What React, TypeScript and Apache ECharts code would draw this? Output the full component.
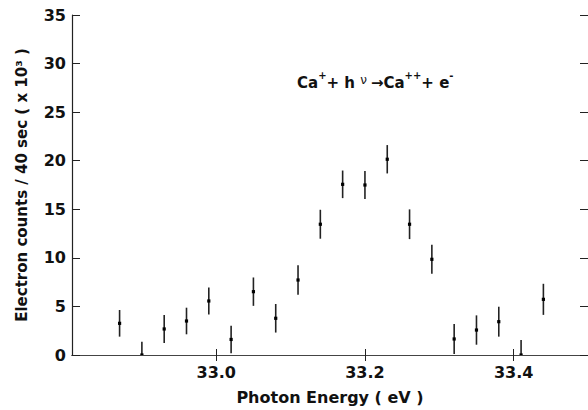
import React, { useEffect, useRef } from "react";
import * as echarts from "echarts";

const energies = [32.87, 32.90, 32.93, 32.96, 32.99, 33.02, 33.05, 33.08, 33.11, 33.14, 33.17, 33.20, 33.23, 33.26, 33.29, 33.32, 33.35, 33.38, 33.41, 33.44];
const counts = [3.26, 0, 2.68, 3.5, 5.56, 1.6, 6.52, 3.78, 7.72, 13.46, 17.57, 17.5, 20.15, 13.46, 9.85, 1.65, 2.57, 3.43, 0, 5.73];
const errors = [1.37, 1.37, 1.45, 1.37, 1.4, 1.41, 1.46, 1.47, 1.51, 1.49, 1.42, 1.45, 1.46, 1.53, 1.49, 1.54, 1.51, 1.54, 1.55, 1.6];
const xTicks = [33.0, 33.2, 33.4];
const xMin = 32.806;
const xMax = 33.5;

const FONT = "DejaVu Sans";

export default function App() {
  const ref = useRef<HTMLDivElement>(null);
  useEffect(() => {
    const chart = echarts.init(ref.current!, undefined, { renderer: "svg" });
    const pts = energies.map((e, i) => [e, counts[i], errors[i]]);
    const option: any = {
      animation: false,
      backgroundColor: "#ffffff",
      grid: { left: 72, right: 0, top: 15, bottom: 55, containLabel: false, outerBoundsMode: "none" },
      xAxis: [
        {
          type: "value",
          min: xMin,
          max: xMax,
          position: "bottom",
          axisLine: { show: true, lineStyle: { color: "#222", width: 1.2 } },
          axisTick: { show: true, inside: true, length: 6, customValues: xTicks, lineStyle: { color: "#222" } },
          axisLabel: {
            show: true,
            customValues: xTicks,
            formatter: (v: number) => v.toFixed(1),
            color: "#111",
            fontFamily: FONT,
            fontWeight: "bold",
            fontSize: 16,
            margin: 9,
          },
          splitLine: { show: false },
          name: "Photon Energy ( eV )",
          nameLocation: "middle",
          nameGap: 34,
          nameTextStyle: { color: "#111", fontFamily: FONT, fontWeight: "bold", fontSize: 16 },
        },
        {
          type: "value",
          min: xMin,
          max: xMax,
          position: "top",
          axisLine: { show: true, lineStyle: { color: "#444", width: 1.2 } },
          axisTick: { show: true, inside: true, length: 6, customValues: xTicks, lineStyle: { color: "#222" } },
          axisLabel: { show: false },
          splitLine: { show: false },
        },
      ],
      yAxis: [
        {
          type: "value",
          min: 0,
          max: 35,
          interval: 5,
          position: "left",
          axisLine: { show: true, lineStyle: { color: "#222", width: 1.2 } },
          axisTick: { show: true, inside: true, length: 8, lineStyle: { color: "#222" } },
          axisLabel: {
            color: "#111",
            fontFamily: FONT,
            fontWeight: "bold",
            fontSize: 16,
            margin: 6,
          },
          splitLine: { show: false },
          name: "Electron counts / 40 sec ( x 10³ )",
          nameLocation: "middle",
          nameGap: 43,
          nameTextStyle: { color: "#111", fontFamily: FONT, fontWeight: "bold", fontSize: 15 },
        },
        {
          type: "value",
          min: 0,
          max: 35,
          interval: 5,
          position: "right",
          axisLine: { show: false },
          axisTick: { show: true, inside: true, length: 8, lineStyle: { color: "#222" } },
          axisLabel: { show: false },
          splitLine: { show: false },
        },
      ],
      graphic: [
        {
          type: "text",
          left: 297,
          top: 70,
          style: {
            text: "{a|Ca}{s|+}{a|+ h }{n|ν}{a|→Ca}{s|++}{a|+ e}{s|-}",
            rich: {
              a: { fontFamily: FONT, fontWeight: "bold", fontSize: 15, fill: "#111", verticalAlign: "bottom", lineHeight: 20 },
              s: { fontFamily: FONT, fontWeight: "bold", fontSize: 10, fill: "#111", verticalAlign: "top", lineHeight: 20 },
              n: { fontFamily: FONT, fontSize: 12, fill: "#111", verticalAlign: "middle", lineHeight: 20, padding: [0, 4, 0, 0] },
            },
          },
        },
      ],
      series: [
        {
          type: "custom",
          xAxisIndex: 0,
          yAxisIndex: 0,
          clip: true,
          data: pts,
          renderItem: (params: any, api: any) => {
            const x = api.value(0);
            const y = api.value(1);
            const e = api.value(2);
            const p = api.coord([x, y]);
            const top = api.coord([x, y + e]);
            const bot = api.coord([x, Math.max(0, y - e)]);
            return {
              type: "group",
              children: [
                {
                  type: "line",
                  shape: { x1: top[0], y1: top[1], x2: bot[0], y2: bot[1] },
                  style: { stroke: "#222", lineWidth: 1.6 },
                },
                {
                  type: "rect",
                  shape: { x: p[0] - 1.6, y: p[1] - 1.6, width: 3.2, height: 3.2 },
                  style: { fill: "#000" },
                },
              ],
            };
          },
        },
      ],
    };
    chart.setOption(option);
    return () => chart.dispose();
  }, []);
  return (
    <div
      ref={ref}
      style={{ position: "fixed", left: 0, top: 0, width: 588, height: 410, background: "#fff" }}
    />
  );
}
